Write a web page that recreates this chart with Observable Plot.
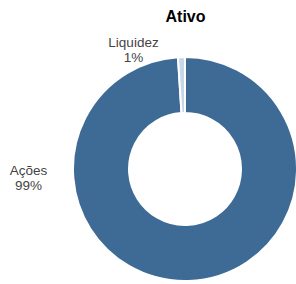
<!DOCTYPE html>
<html><head><meta charset="utf-8">
<script src="https://cdn.jsdelivr.net/npm/d3@7"></script>
<script src="https://cdn.jsdelivr.net/npm/@observablehq/plot@0.6"></script>
<style>body{margin:0;background:#fff;font-family:"Liberation Sans",Arial,sans-serif}</style>
</head><body><div id="chart"></div>
<script>
const title = "Ativo";
const categories = ["Ações", "Liquidez"];
const values = [99, 1];
const valueLabels = ["99%", "1%"];
const colors = ["#3e6a96", "#c7d7ea"];

const data = categories.map((c, i) => ({category: c, value: values[i], label: valueLabels[i]}));
const arcs = d3.pie().sort(null).value(d => d.value)(data);

// layout
const W = 296, H = 284;
const center = {x: 185, y: 169};
const outerR = 112, innerR = 56;
const labelLayout = {"Ações": {x: 28, y: 177}, "Liquidez": {x: 133, y: 49}};

const donut = (index, scales, vals, dims, context) => {
  const g = d3.create("svg:g");
  const cx = scales.x(center.x), cy = scales.y(center.y);
  const ro = scales.x(center.x + outerR) - cx, ri = scales.x(center.x + innerR) - cx;
  const arc = d3.arc().innerRadius(ri).outerRadius(ro);
  g.attr("transform", `translate(${cx},${cy})`);
  g.selectAll("path").data(arcs).join("path")
    .attr("d", arc)
    .attr("fill", d => scales.color(d.data.category))
    .attr("stroke", "#fff")
    .attr("stroke-width", 2)
    .attr("stroke-linejoin", "round");
  return g.node();
};

const labelData = data.map(d => ({text: d.category + "\n" + d.label, x: labelLayout[d.category].x, y: labelLayout[d.category].y}));

const chart = Plot.plot({
  width: W, height: H,
  margin: 0,
  x: {domain: [0, W], range: [0, W], axis: null},
  y: {domain: [0, H], range: [0, H], axis: null},
  color: {domain: categories, range: colors},
  style: {fontFamily: "'Liberation Sans', Arial, sans-serif", background: "#fff"},
  marks: [
    donut,
    Plot.text(labelData, {x: "x", y: "y", text: "text", fontSize: 13.5, fill: "#444", lineHeight: 1.15}),
    Plot.text([title], {x: () => center.x, y: () => 16, text: d => d, fontSize: 16, fontWeight: "bold", fill: "#000"})
  ]
});
document.getElementById("chart").append(chart);
</script>
</body></html>
